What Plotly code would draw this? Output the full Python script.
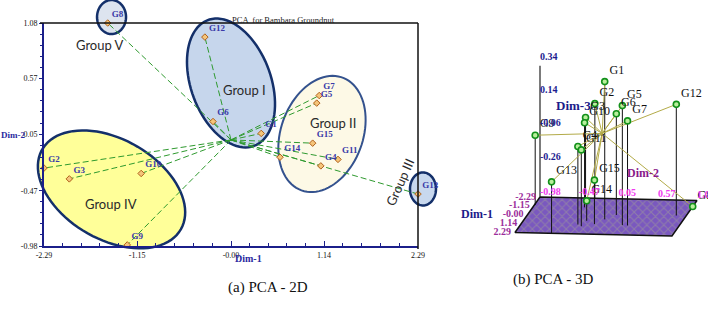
import numpy as np
import plotly.graph_objects as go

W, H = 708, 316

# ---------------- data ----------------
genotypes = ["G1", "G2", "G3", "G4", "G5", "G6", "G7", "G8", "G9", "G10",
             "G11", "G12", "G13", "G14", "G15"]
dim1 = [0.37, -2.29, -1.98, 1.10, 1.05, -0.22, 1.08, -1.51, -1.27, -1.10,
        1.31, -0.32, 2.29, 0.60, 1.00]
dim2 = [0.06, -0.26, -0.36, -0.24, 0.34, 0.17, 0.41, 1.08, -0.97, -0.31,
        -0.18, 0.95, -0.50, -0.16, -0.03]
dim3 = [0.33, 0.07, 0.00, -0.03, 0.22, 0.11, 0.13, -0.50, -0.08, 0.01,
        -0.04, 0.17, -0.19, -0.38, -0.235]

dim1_ticks = [-2.29, -1.15, 0.0, 1.14, 2.29]
dim1_ticktext = ["-2.29", "-1.15", "-0.00", "1.14", "2.29"]
dim2_ticks = [-0.98, -0.47, 0.05, 0.57, 1.08]
dim2_ticktext = ["-0.98", "-0.47", "0.05", "0.57", "1.08"]
dim3_ticks = [0.34, 0.14, -0.06, -0.26]
dim3_ticktext = ["0.34", "0.14", "-0.06", "-0.26"]
dim3_base = -0.50

group_names = ["Group I", "Group II", "Group III", "Group IV", "Group V"]

# ---------------- layout / style constants ----------------
NAVY = "#1b1f8a"
XR = [dim1_ticks[0], dim1_ticks[-1]]
YR = [dim2_ticks[0], dim2_ticks[-1]]
PX_L, PX_R, PY_T, PY_B = 44, 418, 23, 246   # left plot area in pixels

# ellipse geometry: centre in Dim-1/Dim-2 units, semi-axes in px, angle (deg, screen)
GROUP_STYLE = [
    dict(cx=0.0, cy=0.526, a=67, b=40, ang=70, fill="#c6d6ec", line="#14306a", lw=2.5,
         lx=0.17, ly=0.46, rot=0),
    dict(cx=1.114, cy=0.055, a=60, b=41, ang=110, fill="#fdf9e6", line="#34528e", lw=2,
         lx=1.25, ly=0.16, rot=0),
    dict(cx=2.351, cy=-0.453, a=13, b=16.5, ang=0, fill="#c8d8ee", line="#14306a", lw=2.5,
         lx=2.07, ly=-0.39, rot=-66),
    dict(cx=-1.463, cy=-0.457, a=80, b=50, ang=30, fill="#ffff99", line="#14306a", lw=2.5,
         lx=-1.47, ly=-0.59, rot=0),
    dict(cx=-1.463, cy=1.135, a=14.5, b=17, ang=0, fill="#dde4ef", line="#14306a", lw=2.5,
         lx=-1.60, ly=0.877, rot=0),
]


def data_to_px(x, y):
    px = PX_L + (x - XR[0]) / (XR[1] - XR[0]) * (PX_R - PX_L)
    py = PY_B - (y - YR[0]) / (YR[1] - YR[0]) * (PY_B - PY_T)
    return px, py


def ellipse_path(cx, cy, a, b, ang):
    cxp, cyp = data_to_px(cx, cy)
    t = np.linspace(0, 2 * np.pi, 90)
    th = np.radians(ang)
    ex = cxp + a * np.cos(t) * np.cos(th) - b * np.sin(t) * np.sin(th)
    ey = cyp + a * np.cos(t) * np.sin(th) + b * np.sin(t) * np.cos(th)
    pts = [f"{x / W:.5f},{1 - y / H:.5f}" for x, y in zip(ex, ey)]
    return "M " + " L ".join(pts) + " Z"


# oblique projection for the 3-D panel (pixel units of x2/y2)
P0 = (540.0, 197.0)
V1 = (-5.46, 7.75)    # per Dim-1 unit
V2 = (76.2, 1.7)      # per Dim-2 unit
VZ = 166.0            # per Dim-3 unit
D1MIN, D1MAX = dim1_ticks[0], dim1_ticks[-1]
D2MIN, D2MAX = dim2_ticks[0], dim2_ticks[-1]
Z_AXIS_TOP = 0.29


def proj(d1, d2, d3):
    sx = P0[0] + (d1 - D1MIN) * V1[0] + (d2 - D2MIN) * V2[0]
    sy = P0[1] + (d1 - D1MIN) * V1[1] + (d2 - D2MIN) * V2[1] - (d3 - dim3_base) * VZ
    return sx, sy


fig = go.Figure()

# ---------------- 2-D panel ----------------
lx, ly = [], []
for a, b in zip(dim1, dim2):
    lx += [0.0, a, None]
    ly += [0.0, b, None]
fig.add_trace(go.Scatter(x=lx, y=ly, mode="lines", xaxis="x", yaxis="y",
                         line=dict(color="#2f9a2f", width=1, dash="6px,3px"),
                         hoverinfo="skip", showlegend=False))
fig.add_trace(go.Scatter(x=dim1, y=dim2, mode="markers+text", xaxis="x", yaxis="y",
                         text=[f"<b>{g}</b>" for g in genotypes], textposition="top right",
                         textfont=dict(family="Liberation Serif", size=9, color="#3a3aa8"),
                         marker=dict(symbol="diamond", size=5, color="#f5c57a",
                                     line=dict(color="#b0601a", width=1)),
                         cliponaxis=False, hoverinfo="skip", showlegend=False))

shapes = []
annotations = []
for name, st in zip(group_names, GROUP_STYLE):
    shapes.append(dict(type="path", xref="paper", yref="paper", layer="below",
                       path=ellipse_path(st["cx"], st["cy"], st["a"], st["b"], st["ang"]),
                       fillcolor=st["fill"], line=dict(color=st["line"], width=st["lw"])))
    annotations.append(dict(x=st["lx"], y=st["ly"], xref="x", yref="y", text=name,
                            showarrow=False, textangle=st["rot"],
                            font=dict(family="Lato", size=13, color="#2a2a2a")))

# black top/right frame
shapes.append(dict(type="line", xref="paper", yref="paper", x0=40 / W, x1=PX_R / W,
                   y0=1 - PY_T / H, y1=1 - PY_T / H, line=dict(color="#111", width=1.5)))
shapes.append(dict(type="line", xref="paper", yref="paper", x0=PX_R / W, x1=PX_R / W,
                   y0=1 - PY_T / H, y1=1 - (PY_B + 3) / H, line=dict(color="#111", width=1.5)))


def minor_vals(ticks, n=4):
    out = []
    for a, b in zip(ticks[:-1], ticks[1:]):
        out += list(np.linspace(a, b, n + 2)[1:-1])
    return out


# ---------------- 3-D panel ----------------
def xy(points):
    xs, ys = [], []
    for p in points:
        if p is None:
            xs.append(None); ys.append(None)
        else:
            xs.append(p[0]); ys.append(p[1])
    return xs, ys


corners = [proj(D1MIN, D2MIN, dim3_base), proj(D1MIN, D2MAX, dim3_base),
           proj(D1MAX, D2MAX, dim3_base), proj(D1MAX, D2MIN, dim3_base),
           proj(D1MIN, D2MIN, dim3_base)]
cx_, cy_ = xy(corners)
fig.add_trace(go.Scatter(x=cx_, y=cy_, mode="lines", fill="toself", xaxis="x2", yaxis="y2",
                         fillcolor="#7c57c4",
                         fillpattern=dict(shape="x", bgcolor="#7a58bf", fgcolor="#a3a392",
                                          size=6, solidity=0.3),
                         line=dict(color="#111", width=1.5),
                         hoverinfo="skip", showlegend=False))

# vertical Dim-3 axis
zx, zy = xy([proj(D1MIN, D2MIN, dim3_base), proj(D1MIN, D2MIN, Z_AXIS_TOP)])
fig.add_trace(go.Scatter(x=zx, y=zy, mode="lines", xaxis="x2", yaxis="y2",
                         line=dict(color="#222", width=1.2), hoverinfo="skip", showlegend=False))

# drop lines
drops = []
for a, b, c in zip(dim1, dim2, dim3):
    drops += [proj(a, b, c), proj(a, b, dim3_base), None]
dx_, dy_ = xy(drops)
fig.add_trace(go.Scatter(x=dx_, y=dy_, mode="lines", xaxis="x2", yaxis="y2",
                         line=dict(color="#111", width=1), hoverinfo="skip", showlegend=False))

# lines from origin
rays = []
for a, b, c in zip(dim1, dim2, dim3):
    rays += [proj(0, 0, 0), proj(a, b, c), None]
rx_, ry_ = xy(rays)
fig.add_trace(go.Scatter(x=rx_, y=ry_, mode="lines", xaxis="x2", yaxis="y2",
                         line=dict(color="#b3ab48", width=1), hoverinfo="skip", showlegend=False))

# points
pp = [proj(a, b, c) for a, b, c in zip(dim1, dim2, dim3)]
px_, py_ = xy(pp)
fig.add_trace(go.Scatter(x=px_, y=py_, mode="markers+text", xaxis="x2", yaxis="y2",
                         text=genotypes, textposition="top right",
                         textfont=dict(family="Liberation Serif", size=12, color="#111"),
                         marker=dict(symbol="circle", size=6, color="#b9ef9c",
                                     line=dict(color="#12901a", width=1.6)),
                         cliponaxis=False, hoverinfo="skip", showlegend=False))

# tick labels of the 3-D axes
tz = [proj(D1MIN, D2MIN, z) for z in dim3_ticks]
fig.add_trace(go.Scatter(x=[p[0] for p in tz], y=[p[1] for p in tz], mode="text",
                         xaxis="x2", yaxis="y2", text=[f"<b>{t}</b>" for t in dim3_ticktext],
                         textposition="middle right",
                         textfont=dict(family="Liberation Serif", size=10, color="#1c1c90"),
                         cliponaxis=False, hoverinfo="skip", showlegend=False))
t1 = [proj(d, D2MIN, dim3_base) for d in dim1_ticks]
fig.add_trace(go.Scatter(x=[p[0] - 4 for p in t1], y=[p[1] for p in t1], mode="text",
                         xaxis="x2", yaxis="y2", text=[f"<b>{t}</b>" for t in dim1_ticktext],
                         textposition="middle left",
                         textfont=dict(family="Liberation Serif", size=10, color="#9b2d9b"),
                         cliponaxis=False, hoverinfo="skip", showlegend=False))
t2 = [proj(D1MIN, d, dim3_base) for d in dim2_ticks]
fig.add_trace(go.Scatter(x=[p[0] for p in t2], y=[p[1] for p in t2], mode="text",
                         xaxis="x2", yaxis="y2", text=[f"<b>{t}</b>" for t in dim2_ticktext],
                         textposition="top right",
                         textfont=dict(family="Liberation Serif", size=10, color="#f03cf0"),
                         cliponaxis=False, hoverinfo="skip", showlegend=False))

annotations += [
    dict(x=573, y=105, xref="x2", yref="y2", text="<b>Dim-3</b>", showarrow=False,
         font=dict(family="Liberation Serif", size=13, color="#1c1c8a")),
    dict(x=643, y=173, xref="x2", yref="y2", text="<b>Dim-2</b>", showarrow=False,
         font=dict(family="Liberation Serif", size=12, color="#8a1a8a")),
    dict(x=477, y=214, xref="x2", yref="y2", text="<b>Dim-1</b>", showarrow=False,
         font=dict(family="Liberation Serif", size=12, color="#1c1c8a")),
    # 2-D titles
    dict(x=230 / W, y=1 - 13 / H, xref="paper", yref="paper", text="PCA  for Bambara Groundnut",
         showarrow=False, font=dict(family="Liberation Serif", size=8.5, color="#222")),
    dict(x=233 / W, y=1 - 266 / H, xref="paper", yref="paper", text="<b>Dim-1</b>",
         showarrow=False, font=dict(family="Liberation Serif", size=10, color="#2a2aa0")),
    dict(x=0.0, y=1 - 135 / H, xref="paper", yref="paper", text="<b>Dim-2</b>",
         xanchor="left", showarrow=False, borderpad=0,
         font=dict(family="Liberation Serif", size=9, color="#2a2aa0")),
    # captions
    dict(x=226 / W, y=1 - 298 / H, xref="paper", yref="paper", text="(a) PCA - 2D",
         showarrow=False, font=dict(family="Liberation Serif", size=15, color="#111")),
    dict(x=596 / W, y=1 - 290 / H, xref="paper", yref="paper", text="(b) PCA - 3D",
         showarrow=False, font=dict(family="Liberation Serif", size=15, color="#111")),
]

axis_font = dict(family="Liberation Serif", size=8, color="#111")
fig.update_layout(
    width=W, height=H, margin=dict(l=0, r=0, t=0, b=0, autoexpand=False),
    paper_bgcolor="white", plot_bgcolor="rgba(0,0,0,0)", showlegend=False,
    xaxis=dict(domain=[PX_L / W, PX_R / W], range=XR, anchor="y", automargin=False,
               tickmode="array", tickvals=dim1_ticks, ticktext=dim1_ticktext,
               ticks="inside", ticklen=5, tickcolor=NAVY, tickwidth=1.2,
               showline=True, linecolor=NAVY, linewidth=2, showgrid=False, zeroline=False,
               tickfont=axis_font,
               minor=dict(tickvals=minor_vals(dim1_ticks), ticks="inside", ticklen=3,
                          tickcolor=NAVY, showgrid=False)),
    yaxis=dict(domain=[1 - PY_B / H, 1 - PY_T / H], range=YR, anchor="x", automargin=False,
               tickmode="array", tickvals=dim2_ticks, ticktext=dim2_ticktext,
               ticks="outside", ticklen=3, tickcolor=NAVY, tickwidth=1.2,
               showline=True, linecolor=NAVY, linewidth=2, showgrid=False, zeroline=False,
               tickfont=axis_font,
               minor=dict(tickvals=minor_vals(dim2_ticks), ticks="outside", ticklen=2,
                          tickcolor=NAVY, showgrid=False)),
    xaxis2=dict(domain=[439 / W, 1], range=[439, 708], anchor="y2", visible=False,
                automargin=False),
    yaxis2=dict(domain=[0, 1], range=[316, 0], anchor="x2", visible=False, automargin=False),
    shapes=shapes, annotations=annotations,
)

fig.write_html("out.html", config={"displayModeBar": False},
               post_script="document.body.style.margin='0px';document.body.style.overflow='hidden';")
